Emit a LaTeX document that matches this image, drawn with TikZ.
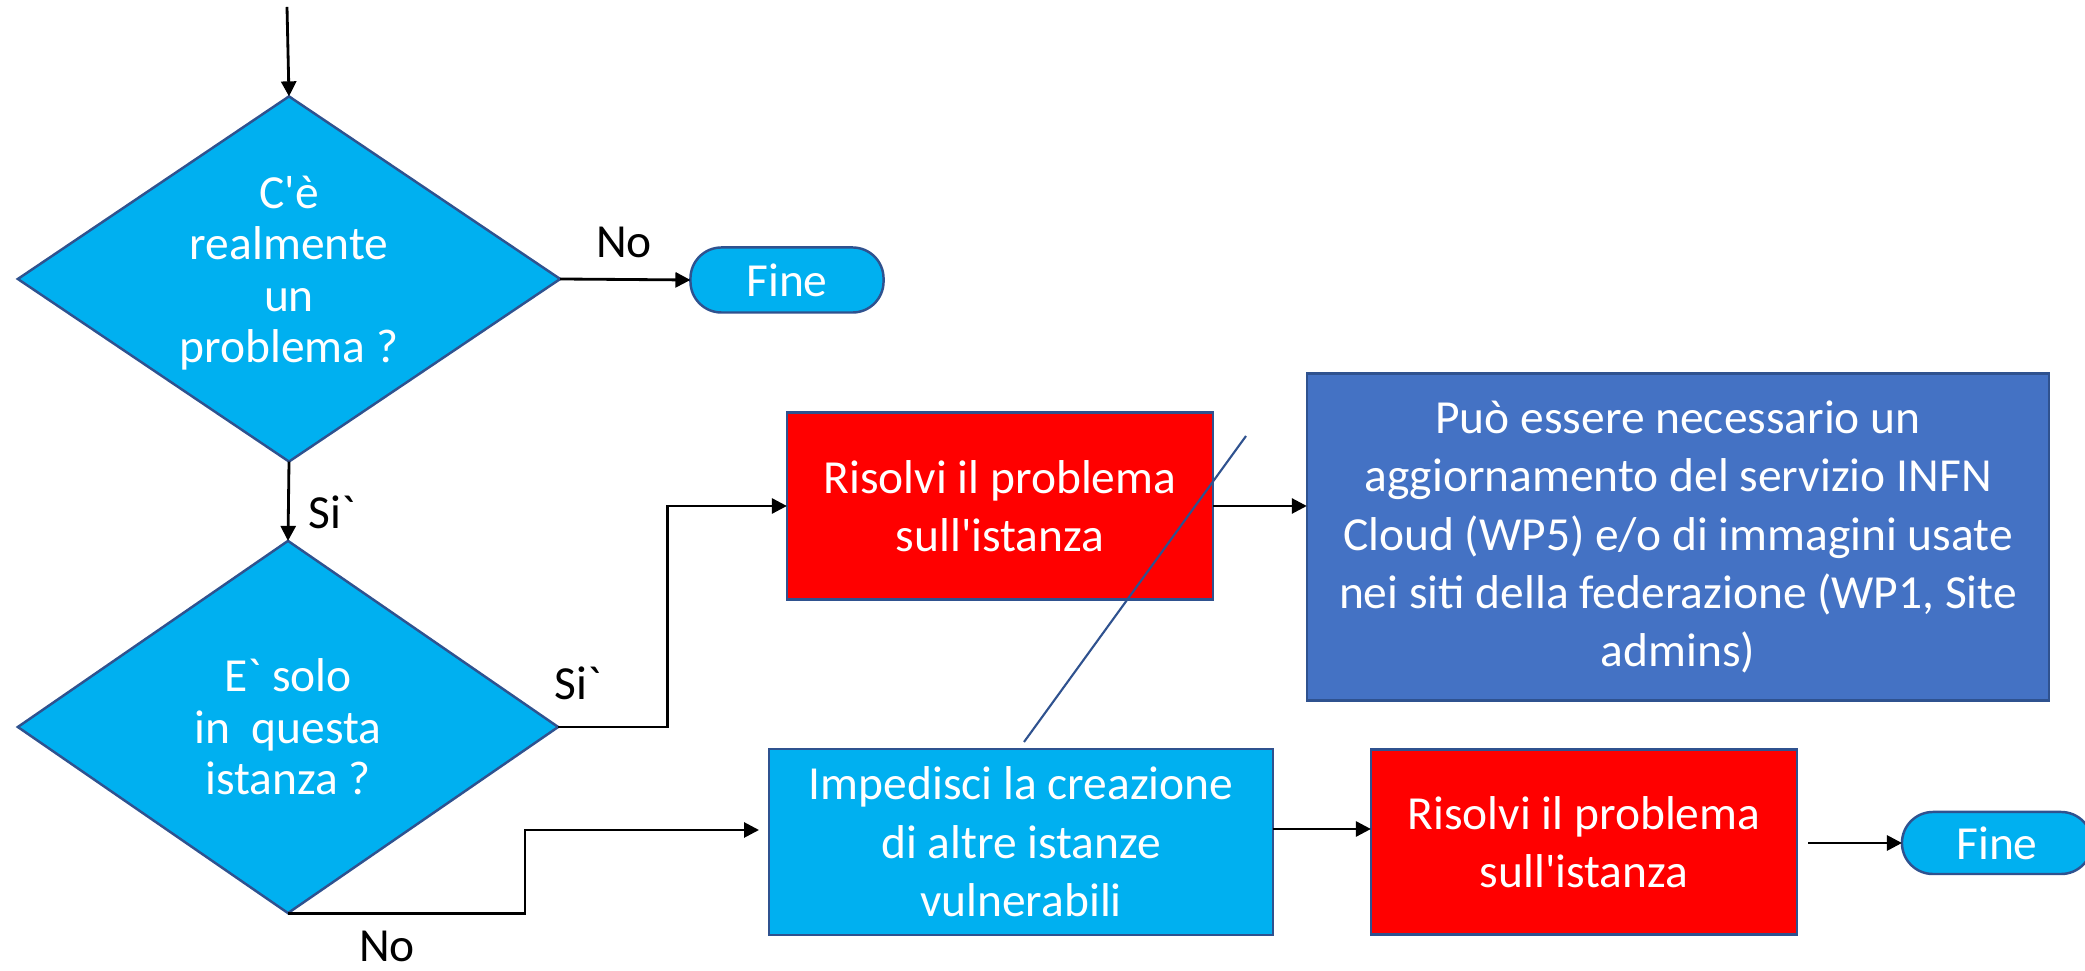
\documentclass[tikz,border=0pt]{standalone}
\usepackage{fontspec}
\setmainfont{Carlito}[Ligatures=TeXOff]
\usetikzlibrary{shapes.geometric,arrows.meta,calc}
\definecolor{cyanfill}{HTML}{00B0F0}
\definecolor{redfill}{HTML}{FF0000}
\definecolor{bluefill}{HTML}{4472C4}
\definecolor{edge}{HTML}{2F528F}
\begin{document}
\begin{tikzpicture}[x=0.01cm,y=-0.01cm,
  shape box/.style={draw=edge, line width=0.7pt, text=white, align=center,
    inner sep=0pt, outer sep=0pt, font=\fontsize{13.5}{16.6}\selectfont},
  decision/.style={diamond, aspect=1.48, draw=edge, line width=0.7pt,
    fill=cyanfill, inner sep=0pt, outer sep=0pt},
  dtext/.style={text=white, align=center, inner sep=0pt,
    font=\fontsize{13.5}{14.6}\selectfont},
  terminal/.style={shape box, fill=cyanfill, rounded corners=0.31cm},
  lbl/.style={text=black, inner sep=0pt, font=\fontsize{13.5}{16}\selectfont},
  arr/.style={-{Triangle[length=0.15cm,width=0.15cm]}, line width=0.8pt, black},
  stray/.style={draw=edge, line width=0.6pt}
]
\useasboundingbox (0,0) rectangle (2085,971);

% decisions
\node[decision, minimum width=5.42cm, minimum height=3.65cm] (d1) at (289,279) {};
\node[dtext] (d1t) at (289,273) {C'è\\realmente\\un\\problema ?};
\node[decision, minimum width=5.40cm, minimum height=3.72cm] (d2) at (288,727) {};
\node[dtext] (d2t) at (288,727) {E` solo\\in\ \ questa\\istanza ?};

% terminals
\node[terminal, minimum width=1.93cm, minimum height=0.65cm] (fin1) at (787,280) {Fine};
\node[terminal, minimum width=1.90cm, minimum height=0.62cm] (fin2) at (1997,843) {Fine};

% process boxes
\node[shape box, fill=redfill, minimum width=4.26cm, minimum height=1.87cm]
  (rl1) at (1000,506) {Risolvi il problema\\sull'istanza};
\node[shape box, fill=bluefill, minimum width=7.42cm, minimum height=3.27cm]
  (info) at (1678,537) {Può essere necessario un\\aggiornamento del servizio INFN\\Cloud (WP5) e/o di immagini usate\\nei siti della federazione (WP1, Site\\admins)};
\node[shape box, fill=cyanfill, minimum width=5.04cm, minimum height=1.86cm]
  (imp) at (1021,842) {Impedisci la creazione\\di altre istanze\\vulnerabili};
\node[shape box, fill=redfill, minimum width=4.26cm, minimum height=1.85cm]
  (rl2) at (1584,842) {Risolvi il problema\\sull'istanza};

% branch labels
\node[lbl] (no1) at (624,242) {No};
\node[lbl] (si1) at (332,512) {Si`};
\node[lbl] (si2) at (578,683) {Si`};
\node[lbl] (no2) at (387,946) {No};

% connectors
\coordinate (start) at (287,7);
\draw[arr] (start) -- (d1.north);
\draw[arr] (d1.east) -- (fin1.west);
\draw[arr] (d1.south) -- (d2.north);
\draw[arr] (d2.east) -- ++(109,0) |- (rl1.west);
\coordinate (impin) at (759,830);
\draw[arr] (d2.south) -- ++(237,0) |- (impin);
\draw[arr] (rl1.east) -- (rl1.east -| info.west);
\draw[arr] ($(imp.east)+(0,-13)$) -- ($(rl2.west)+(0,-13)$);
\draw[arr] ($(rl2.east)+(11,1)$) -- (fin2.west);

% thin diagonal stroke across the upper red box
\coordinate (s1) at (1246,436);
\coordinate (s2) at (1024,742);
\draw[stray] (s1) -- (s2);
\end{tikzpicture}
\end{document}
